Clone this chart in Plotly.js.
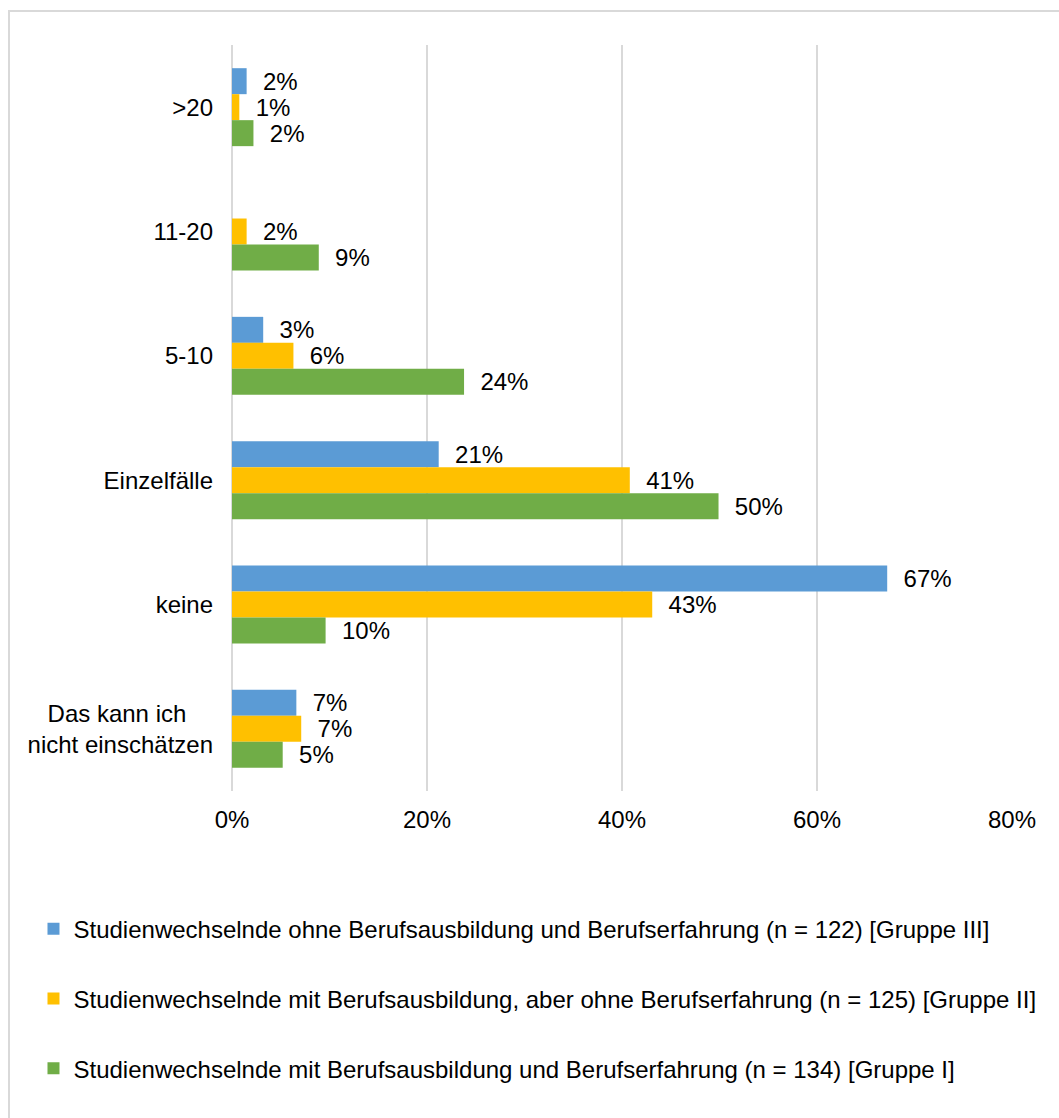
<!DOCTYPE html>
<html><head><meta charset="utf-8">
<script src="https://cdn.plot.ly/plotly-3.0.1.min.js"></script>
<style>
html,body{margin:0;padding:0;background:#fff;}
#wrap{position:relative;width:1059px;height:1118px;overflow:hidden;}
#chart{width:1059px;height:1118px;}
#frame{position:absolute;left:8px;top:10px;width:1100px;height:1200px;border:2px solid #d9d9d9;pointer-events:none;}
</style></head><body>
<div id="wrap"><div id="chart"></div><div id="frame"></div></div>
<script>
const categories = [">20", "11-20", "5-10", "Einzelfälle", "keine", "Das kann ich nicht einschätzen"];
const tickLabels = [">20", "11-20", "5-10", "Einzelfälle", "keine", "Das kann ich\u00a0\u00a0\u00a0\u00a0<br>nicht einschätzen"];
const seriesNames = [
  "Studienwechselnde ohne Berufsausbildung und Berufserfahrung (n = 122) [Gruppe III]",
  "Studienwechselnde mit Berufsausbildung, aber ohne Berufserfahrung (n = 125) [Gruppe II]",
  "Studienwechselnde mit Berufsausbildung und Berufserfahrung (n = 134) [Gruppe I]"
];
const gruppeIII = [1.5, null, 3.2, 21.2, 67.2, 6.6];
const gruppeII  = [0.75, 1.5, 6.3, 40.8, 43.1, 7.1];
const gruppeI   = [2.2, 8.9, 23.8, 49.9, 9.6, 5.2];
const xTickVals = [0, 20, 40, 60, 80];
const colors = ["#5B9BD5", "#FFC000", "#70AD47"];

const FONT = "Liberation Sans, Arial, sans-serif";
const FS = 24;
const series = [gruppeIII, gruppeII, gruppeI];

const traces = series.map((vals, i) => ({
  type: "bar",
  orientation: "h",
  name: seriesNames[i],
  legendgroup: "g" + i,
  y: categories,
  x: vals,
  text: vals.map(v => v == null ? "" : "\u00a0\u00a0" + Math.round(v) + "%"),
  textposition: "outside",
  constraintext: "none",
  cliponaxis: false,
  textfont: {family: FONT, size: FS, color: "#000"},
  marker: {color: colors[i], line: {width: 0}},
  hoverinfo: "skip"
}));

const layout = {
  width: 1059,
  height: 1118,
  margin: {l: 232, r: 47, t: 45, b: 327},
  paper_bgcolor: "#fff",
  plot_bgcolor: "#fff",
  barmode: "group",
  bargap: 0.373,
  bargroupgap: 0,
  font: {family: FONT, size: FS, color: "#000"},
  showlegend: true,
  legend: {
    orientation: "v",
    x: -0.2545,
    xanchor: "left",
    y: -0.155,
    yanchor: "top",
    traceorder: "grouped",
    tracegroupgap: 35.5,
    font: {family: FONT, size: FS, color: "#000"},
    bgcolor: "rgba(0,0,0,0)"
  },
  xaxis: {
    range: [0, 80],
    tickvals: xTickVals,
    ticktext: xTickVals.map(v => v + "%"),
    showgrid: true,
    gridcolor: "#d9d9d9",
    gridwidth: 1.4,
    zeroline: true,
    zerolinecolor: "#d9d9d9",
    zerolinewidth: 1.4,
    showline: false,
    ticks: "",
    ticklabelstandoff: 12,
    tickfont: {family: FONT, size: FS, color: "#000"},
    fixedrange: true
  },
  yaxis: {
    type: "category",
    autorange: false,
    range: [5.5, -0.5],
    tickvals: categories,
    ticktext: tickLabels,
    showgrid: false,
    zeroline: false,
    showline: false,
    ticks: "",
    ticklabelstandoff: 18,
    tickfont: {family: FONT, size: FS, color: "#000"},
    fixedrange: true
  }
};

Plotly.newPlot("chart", traces, layout, {displayModeBar: false, staticPlot: true});
</script>
</body></html>
